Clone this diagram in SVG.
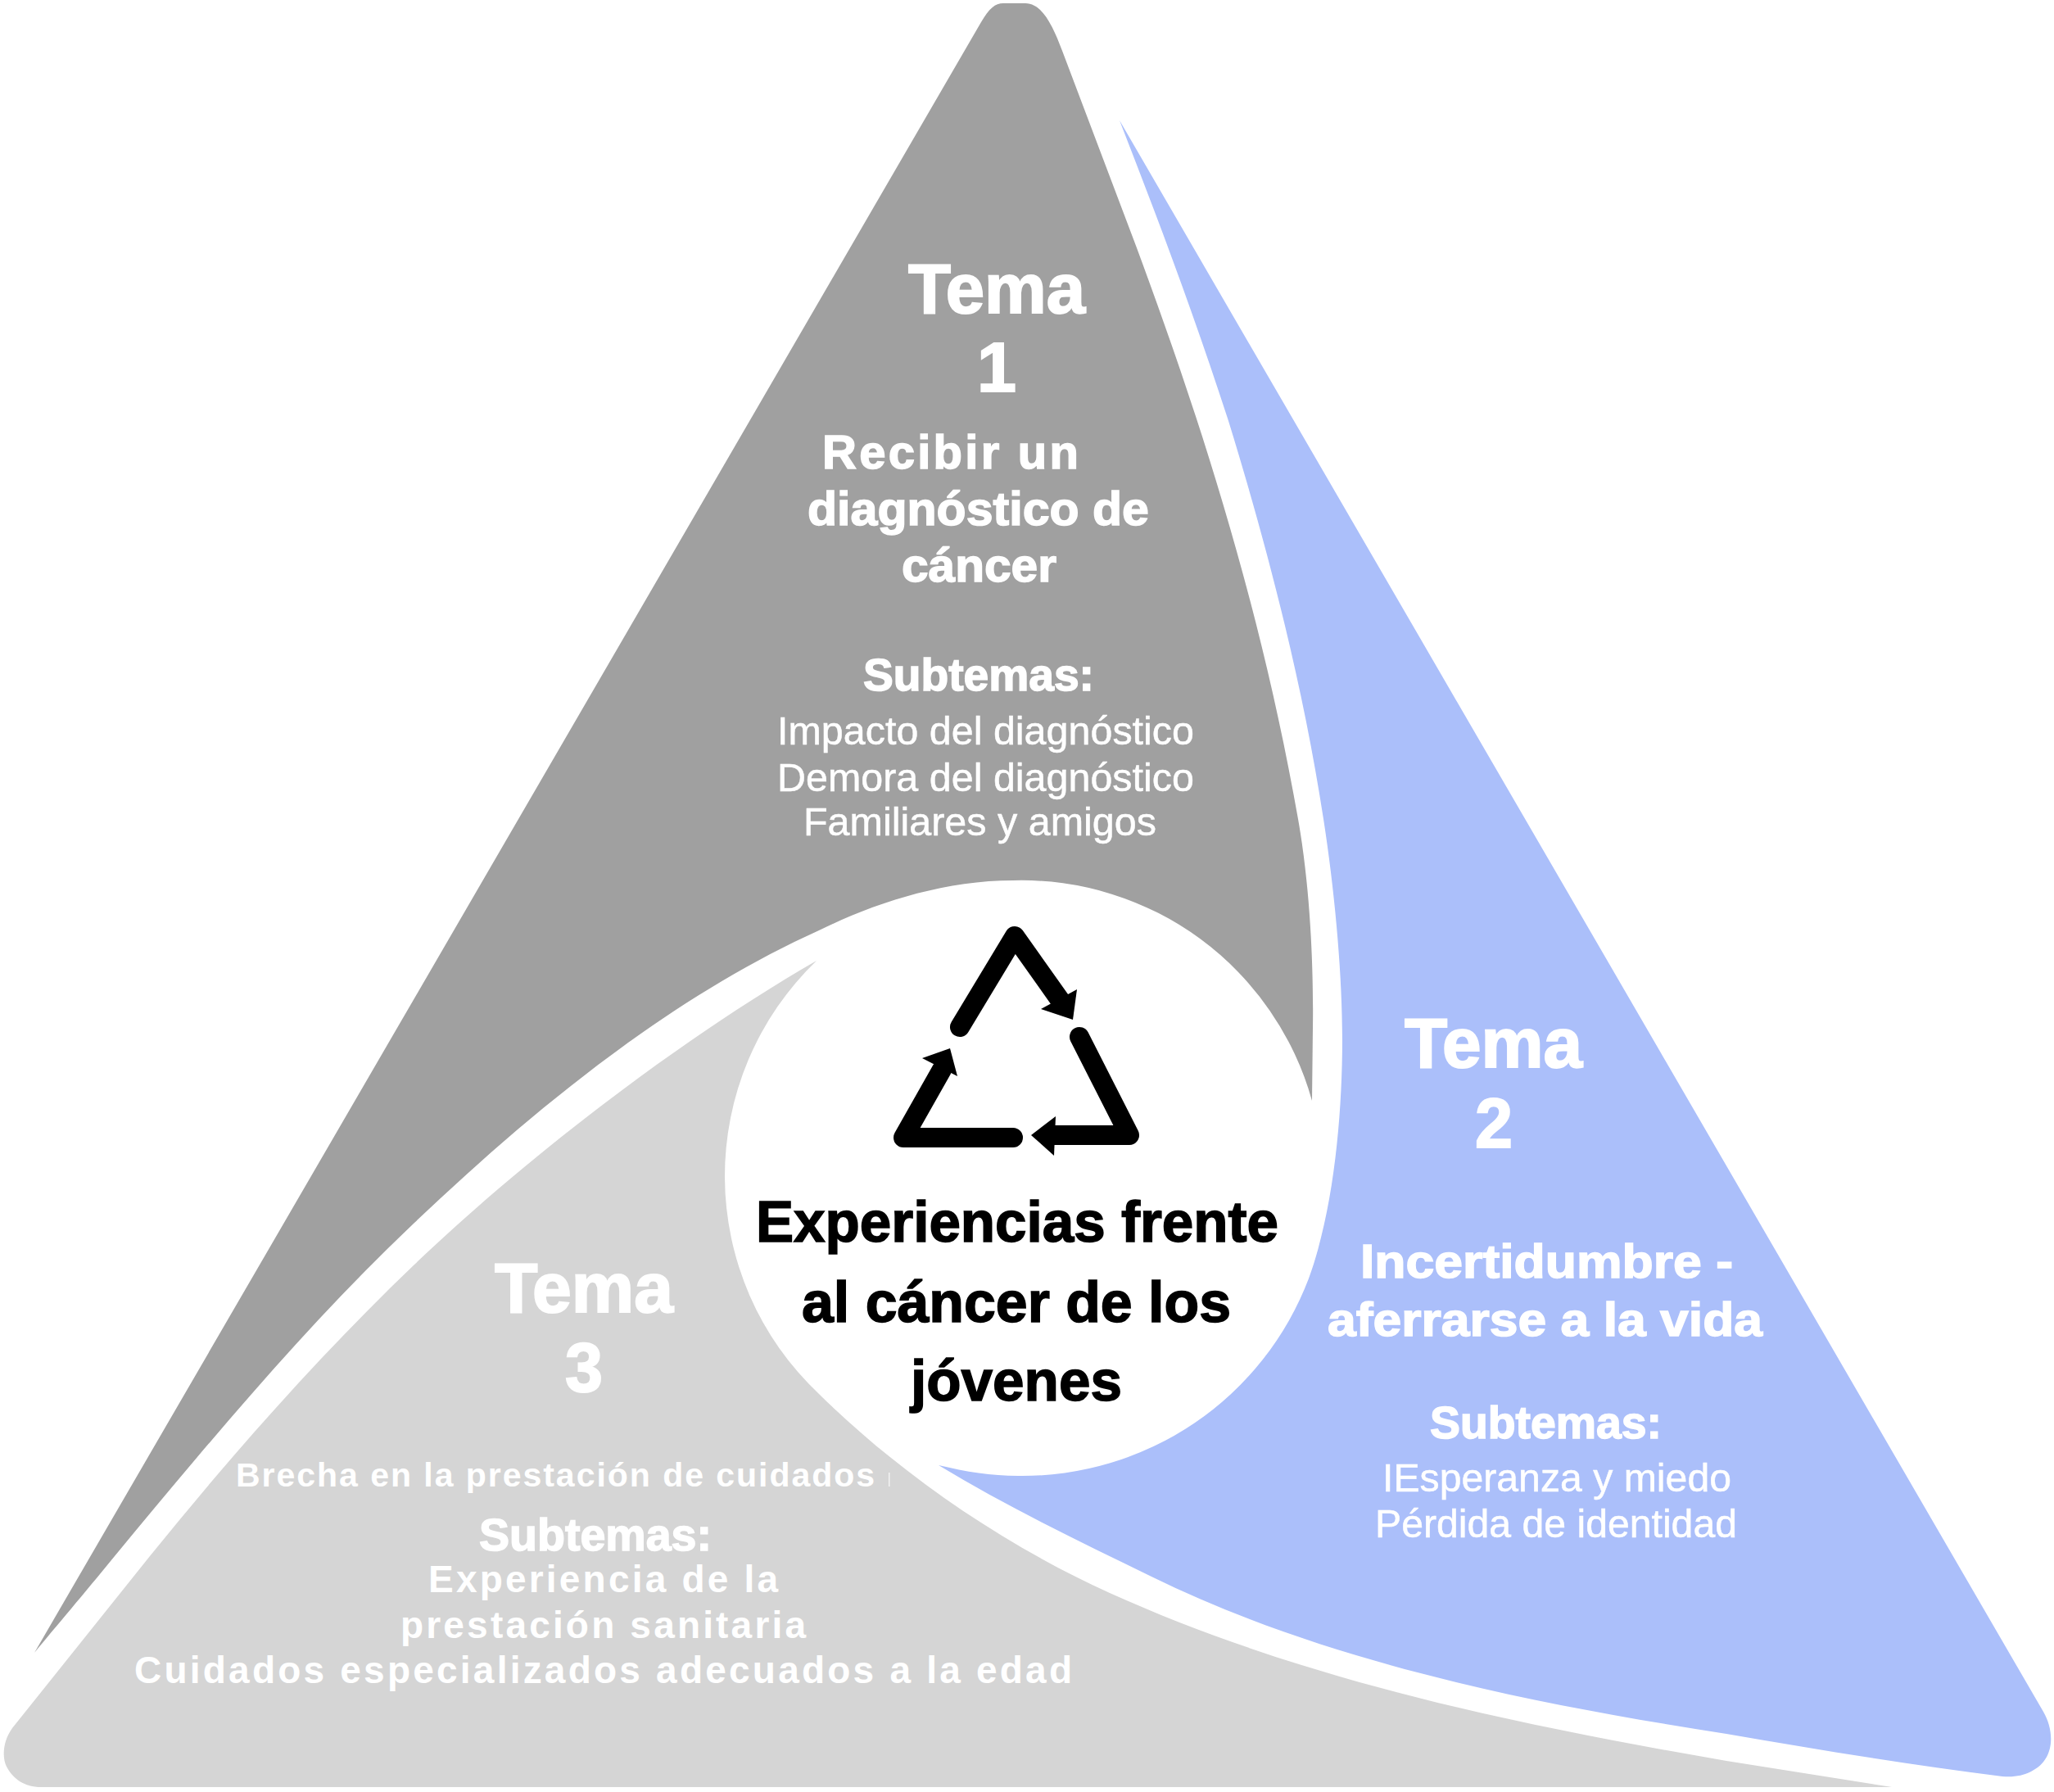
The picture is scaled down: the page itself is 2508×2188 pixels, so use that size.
<svg xmlns="http://www.w3.org/2000/svg" width="2508" height="2188" viewBox="0 0 2508 2188">
<style>
text{font-family:"Liberation Sans",Arial,sans-serif;fill:#fff}
.b{font-weight:700}
.t{font-size:86px;font-weight:700;stroke:#fff;stroke-width:2}
.h{font-size:58px;font-weight:700;stroke:#fff;stroke-width:1.5}
.s{font-size:55px;font-weight:700;stroke:#fff;stroke-width:1.5}
.r{font-size:49px;stroke:#fff;stroke-width:.5}
.g{font-size:46px;font-weight:700}
.c{font-size:70px;font-weight:700;fill:#000;stroke:#000;stroke-width:1.5}
.ic{fill:none;stroke:#000;stroke-width:24;stroke-linecap:round;stroke-linejoin:round}
</style>
<rect width="2508" height="2188" fill="#fff"/>
<g id="tema1">
<path fill="#a0a0a0" d="M1225 4L1252 4C1272 4 1285 30 1297 62L1387 300C1450 470 1535 715 1585 1000C1601 1091 1604 1190 1603 1255L1602 1344A368 368 0 0 0 1237 1075C1150 1075 1065 1104 1000 1136C818 1218 651 1355 506 1493C375 1617 255 1761 140 1900C100 1949 70 1984 42 2018L1198 27C1208 10 1215 4 1225 4Z"/>
<text class="t" x="1109" y="382" textLength="216" lengthAdjust="spacingAndGlyphs">Tema</text>
<text class="t" x="1193" y="478" textLength="48" lengthAdjust="spacingAndGlyphs">1</text>
<text class="h" x="1004" y="572" textLength="313" lengthAdjust="spacing">Recibir un</text>
<text class="h" x="986" y="641" textLength="417" lengthAdjust="spacingAndGlyphs">diagnóstico de</text>
<text class="h" x="1101" y="710" textLength="189" lengthAdjust="spacingAndGlyphs">cáncer</text>
<text class="s" x="1054" y="843" textLength="282" lengthAdjust="spacingAndGlyphs">Subtemas:</text>
<text class="r" x="949" y="909" textLength="509" lengthAdjust="spacingAndGlyphs">Impacto del diagnóstico</text>
<text class="r" x="949" y="966" textLength="509" lengthAdjust="spacingAndGlyphs">Demora del diagnóstico</text>
<text class="r" x="981" y="1020" textLength="431" lengthAdjust="spacingAndGlyphs">Familiares y amigos</text>
</g>
<g id="tema2">
<path fill="#abbffa" d="M1367 147L2495 2090C2510 2116 2508 2150 2480 2163C2470 2168 2460 2170 2445 2169C2330 2155 2220 2136 2108 2117C1870 2080 1620 2030 1406 1925C1320 1883 1230 1840 1146 1789C1180 1797 1210 1802 1243 1802A374 374 0 0 0 1598 1561C1629 1476 1639 1360 1639 1269C1639 1190 1630 1090 1616 1000C1590 830 1545 660 1500 514C1460 390 1415 270 1367 147Z"/>
<text class="t" x="1715" y="1303" textLength="217" lengthAdjust="spacingAndGlyphs">Tema</text>
<text class="t" x="1801" y="1401" textLength="46" lengthAdjust="spacingAndGlyphs">2</text>
<text class="h" x="1661" y="1560" textLength="455" lengthAdjust="spacingAndGlyphs">Incertidumbre -</text>
<text class="h" x="1621" y="1631" textLength="531" lengthAdjust="spacingAndGlyphs">aferrarse a la vida</text>
<text class="s" x="1746" y="1756" textLength="283" lengthAdjust="spacingAndGlyphs">Subtemas:</text>
<text class="r" x="1688" y="1821" textLength="426" lengthAdjust="spacingAndGlyphs">IEsperanza y miedo</text>
<text class="r" x="1679" y="1877" textLength="442" lengthAdjust="spacingAndGlyphs">Pérdida de identidad</text>
</g>
<g id="tema3">
<path fill="#d5d5d5" d="M997 1173C832 1268 643 1413 506 1544C391 1654 284 1775 183 1900L15 2110C4 2125 2 2145 8 2157C16 2172 30 2182 50 2182L2310 2182L2108 2150C1852 2106 1592 2052 1355 1945C1225 1886 1100 1800 1000 1702A365 365 0 0 1 997 1173Z"/>
<text class="t" x="604" y="1602" textLength="218" lengthAdjust="spacingAndGlyphs">Tema</text>
<text class="t" x="690" y="1699" textLength="46" lengthAdjust="spacingAndGlyphs">3</text>
<text class="b" font-size="41" x="288" y="1815" textLength="780" lengthAdjust="spacing">Brecha en la prestación de cuidados</text>
<rect x="1085" y="1798" width="1.500" height="17" fill="#fff" opacity=".7"/>
<text class="s" x="585" y="1893" textLength="284" lengthAdjust="spacingAndGlyphs">Subtemas:</text>
<text class="g" x="523" y="1944" textLength="427" lengthAdjust="spacing">Experiencia de la</text>
<text class="g" x="489" y="2000" textLength="495" lengthAdjust="spacing">prestación sanitaria</text>
<text class="g" x="164" y="2055" textLength="1145" lengthAdjust="spacing">Cuidados especializados adecuados a la edad</text>
</g>
<g id="centro">
<path class="ic" d="M1172 1254L1239 1143L1295 1222"/>
<path d="M1315 1208L1310 1245L1271 1232Z"/>
<path class="ic" d="M1318 1266L1379 1386L1286 1386"/>
<path d="M1259 1386L1289 1363L1287 1411Z"/>
<path class="ic" d="M1237 1389L1103 1389L1150 1306"/>
<path d="M1160 1280L1169 1314L1126 1292Z"/>
<text class="c" x="923" y="1516" textLength="638" lengthAdjust="spacingAndGlyphs">Experiencias frente</text>
<text class="c" x="979" y="1614" textLength="524" lengthAdjust="spacingAndGlyphs">al cáncer de los</text>
<text class="c" x="1112" y="1710" textLength="258" lengthAdjust="spacingAndGlyphs">jóvenes</text>
</g>
</svg>
